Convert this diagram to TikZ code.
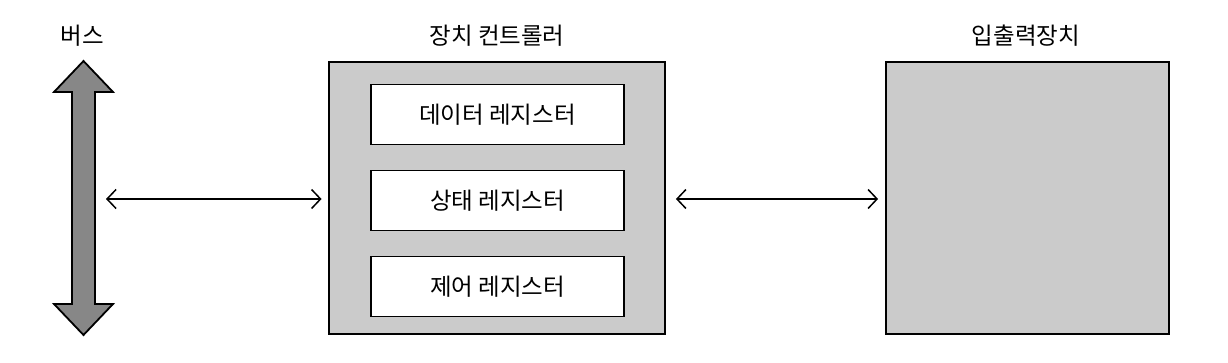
\documentclass[tikz,border=0pt]{standalone}
\usepackage{fontspec}
\newfontfamily\kr{Noto Sans CJK KR}
\usetikzlibrary{arrows.meta}
\begin{document}
\begin{tikzpicture}[x=1pt,y=-1pt,
  every node/.style={font=\kr\fontsize{23.5}{26}\selectfont},
  box/.style={draw=black,line width=1.8pt,fill=boxgray,inner sep=0pt},
  regbox/.style={draw=black,line width=1.8pt,fill=white,minimum width=253pt,minimum height=60pt,inner sep=0pt},
  title/.style={inner sep=0pt},
  link/.style={line width=1.5pt,{Straight Barb[length=9pt,width=19pt,line width=1.5pt]}-{Straight Barb[length=9pt,width=19pt,line width=1.5pt]}}
]
\definecolor{boxgray}{HTML}{CBCBCB}
\definecolor{busgray}{HTML}{878787}
\useasboundingbox (0,0) rectangle (1228,362);
% bus arrow
\draw[line width=1.8pt,fill=busgray,line join=miter]
  (83.5,61) -- (113,92) -- (95,92) -- (95,304) -- (113,304) -- (83.5,335)
  -- (54,304) -- (72,304) -- (72,92) -- (54,92) -- cycle;
\coordinate (bus) at (106,199);
\node[title] (bustitle) at (82,36) {버스};
% device controller
\node[box,minimum width=336pt,minimum height=272pt] (ctrl) at (497,198) {};
\node[title] (ctrltitle) at (497,36) {장치 컨트롤러};
\node[regbox] (data) at (497.5,114.5) {데이터 레지스터};
\node[regbox] (state) at (497.5,200.5) {상태 레지스터};
\node[regbox] (control) at (497.5,286.5) {제어 레지스터};
% io device
\node[box,minimum width=283pt,minimum height=272pt] (io) at (1027.5,198) {};
\node[title] (iotitle) at (1026,36) {입출력장치};
% connectors
\draw[link,shorten >=6.5pt] (bus) -- (ctrl.west |- bus);
\draw[link,shorten <=10pt,shorten >=7pt] (ctrl.east |- bus) -- (io.west |- bus);
\end{tikzpicture}
\end{document}
